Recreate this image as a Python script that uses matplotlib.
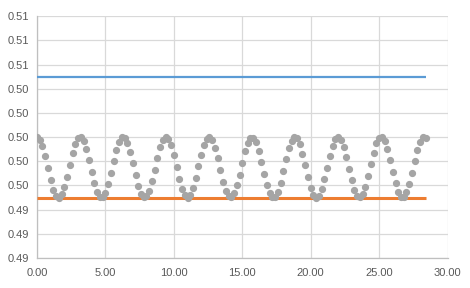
import matplotlib
matplotlib.use("Agg")
import matplotlib.pyplot as plt
import numpy as np

plt.rcParams['font.family'] = ['Liberation Sans', 'DejaVu Sans']

x_values = [round(0.2 * i, 1) for i in range(143)]
series_values = [
    0.50000, 0.49980, 0.49924, 0.49841, 0.49743, 0.49646, 0.49566, 0.49515, 0.49500, 0.49526,
    0.49587, 0.49673, 0.49772, 0.49867, 0.49944, 0.49990, 0.49998, 0.49967, 0.49902, 0.49813,
    0.49714, 0.49620, 0.49547, 0.49506, 0.49504, 0.49540, 0.49609, 0.49702, 0.49801, 0.49892,
    0.49961, 0.49997, 0.49993, 0.49952, 0.49878, 0.49784, 0.49685, 0.49596, 0.49532, 0.49502,
    0.49511, 0.49558, 0.49635, 0.49730, 0.49829, 0.49915, 0.49976, 0.50000, 0.49985, 0.49933,
    0.49852, 0.49755, 0.49657, 0.49574, 0.49519, 0.49500, 0.49521, 0.49579, 0.49662, 0.49760,
    0.49856, 0.49936, 0.49986, 0.49999, 0.49973, 0.49912, 0.49825, 0.49726, 0.49631, 0.49555,
    0.49510, 0.49502, 0.49534, 0.49600, 0.49689, 0.49789, 0.49882, 0.49954, 0.49994, 0.49996,
    0.49959, 0.49889, 0.49797, 0.49697, 0.49606, 0.49538, 0.49503, 0.49507, 0.49550, 0.49624,
    0.49718, 0.49817, 0.49906, 0.49970, 0.49999, 0.49989, 0.49941, 0.49863, 0.49768, 0.49669,
    0.49583, 0.49524, 0.49500, 0.49516, 0.49569, 0.49650, 0.49747, 0.49845, 0.49928, 0.49982,
    0.50000, 0.49979, 0.49921, 0.49836, 0.49738, 0.49642, 0.49563, 0.49513, 0.49501, 0.49528,
    0.49590, 0.49678, 0.49776, 0.49871, 0.49947, 0.49991, 0.49998, 0.49965, 0.49899, 0.49809,
    0.49709, 0.49617, 0.49545, 0.49505, 0.49505, 0.49543, 0.49612, 0.49706, 0.49805, 0.49896,
    0.49963, 0.49997, 0.49992,
]
upper_value = 0.5050
lower_value = 0.4950

x_ticks = [0, 5, 10, 15, 20, 25, 30]
y_ticks = [0.490, 0.492, 0.494, 0.496, 0.498, 0.500, 0.502, 0.504, 0.506, 0.508, 0.510]

fig = plt.figure(figsize=(4.70, 2.88), dpi=100)
ax = fig.add_axes([0.0787, 0.104, 0.8735, 0.840])

ax.plot(x_values, [upper_value] * len(x_values), color='#5b9bd5', lw=1.6, zorder=3,
        solid_capstyle='butt')
ax.plot(x_values, [lower_value] * len(x_values), color='#ed7d31', lw=2.2, zorder=3,
        solid_capstyle='butt')
ax.plot(x_values, series_values, linestyle='none', marker='o', ms=4.2,
        color='#a5a5a5', mec='#a5a5a5', zorder=4)

ax.set_xlim(0, 30)
ax.set_ylim(0.490, 0.510)
ax.set_xticks(x_ticks)
ax.set_yticks(y_ticks)
ax.set_xticklabels([f"{v:.2f}" for v in x_ticks])
ax.set_yticklabels([f"{v:.2f}" for v in y_ticks])

ax.grid(True, color='#d9d9d9', lw=0.9)
ax.set_axisbelow(True)
for s in ['top', 'right']:
    ax.spines[s].set_visible(False)
ax.spines['left'].set_color('#bfbfbf')
ax.spines['bottom'].set_color('#bfbfbf')
ax.spines['left'].set_linewidth(0.9)
ax.spines['bottom'].set_linewidth(0.9)
ax.tick_params(length=0, labelsize=8, colors='#595959', pad=6)
ax.tick_params(axis='x', pad=7)

fig.savefig('out.png', dpi=100)
